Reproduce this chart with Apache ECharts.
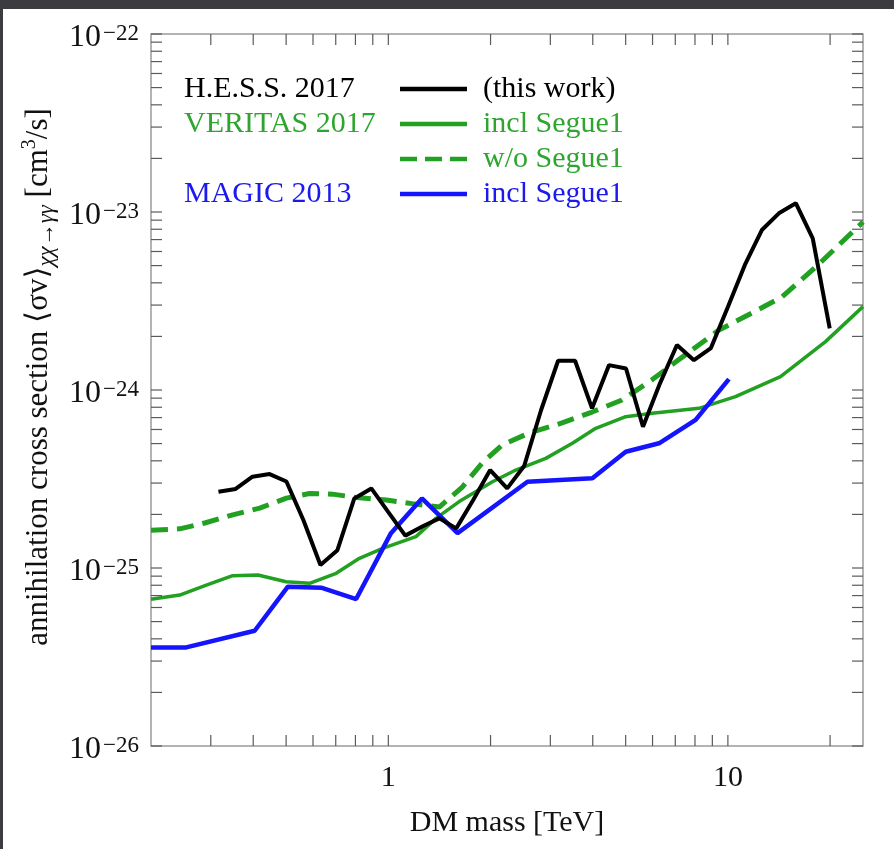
<!DOCTYPE html>
<html>
<head>
<meta charset="utf-8">
<title>DM annihilation into two photons: upper limits</title>
<script src="https://cdn.jsdelivr.net/npm/echarts@6/dist/echarts.min.js"></script>
<style>
  html, body { margin: 0; padding: 0; width: 894px; height: 849px; overflow: hidden; background: #3c3b40; }
  #paper { position: absolute; left: 3px; top: 9px; right: 0; bottom: 0; background: #ffffff; }
  #chart { position: absolute; left: 0; top: 0; width: 894px; height: 849px; }
</style>
</head>
<body>
<div id="paper"></div>
<div id="chart"></div>
<script>
// DM mass [TeV] and <sigma v> [cm^3/s] limits for each experiment
const hessMass = [0.316, 0.355, 0.398, 0.447, 0.501, 0.562, 0.631, 0.708, 0.794, 0.891,
                  1.0, 1.122, 1.259, 1.413, 1.585, 1.778, 1.995, 2.239, 2.512, 2.818,
                  3.162, 3.548, 3.981, 4.467, 5.012, 5.623, 6.310, 7.079, 7.943, 8.913,
                  10.0, 11.22, 12.59, 14.13, 15.85, 17.78, 19.95];
const hessSigma = [2.68e-25, 2.78e-25, 3.26e-25, 3.37e-25, 3.06e-25, 1.86e-25, 1.04e-25, 1.26e-25, 2.46e-25, 2.80e-25,
                   2.06e-25, 1.52e-25, 1.71e-25, 1.90e-25, 1.67e-25, 2.41e-25, 3.55e-25, 2.80e-25, 3.74e-25, 7.72e-25,
                   1.46e-24, 1.46e-24, 7.89e-25, 1.38e-24, 1.32e-24, 6.22e-25, 1.09e-24, 1.79e-24, 1.47e-24, 1.72e-24,
                   2.93e-24, 5.04e-24, 7.92e-24, 9.83e-24, 1.12e-23, 7.12e-24, 2.22e-24];

const veritasMass = [0.2, 0.243, 0.291, 0.348, 0.413, 0.50, 0.586, 0.702, 0.822, 0.962,
                     1.206, 1.381, 1.617, 2.026, 2.374, 2.909, 3.484, 4.082, 5.003, 5.99,
                     8.216, 10.53, 14.29, 19.39, 25];
const veritasSigma = [6.67e-26, 7.05e-26, 8.02e-26, 9.05e-26, 9.13e-26, 8.37e-26, 8.20e-26, 9.34e-26, 1.134e-25, 1.29e-25,
                      1.50e-25, 1.90e-25, 2.36e-25, 3.05e-25, 3.55e-25, 4.13e-25, 5.02e-25, 6.09e-25, 7.08e-25, 7.40e-25,
                      7.89e-25, 9.17e-25, 1.19e-24, 1.87e-24, 2.94e-24];

const veritasNoSegMass = [0.2, 0.243, 0.288, 0.348, 0.418, 0.501, 0.586, 0.684, 0.805, 0.987,
                          1.176, 1.413, 1.651, 1.890, 2.164, 2.598, 3.249, 3.981, 4.878, 5.977,
                          7.031, 9.41, 11.77, 14.42, 18.15, 25];
const veritasNoSegSigma = [1.63e-25, 1.66e-25, 1.79e-25, 1.99e-25, 2.17e-25, 2.47e-25, 2.62e-25, 2.60e-25, 2.49e-25, 2.41e-25,
                           2.30e-25, 2.20e-25, 2.85e-25, 3.89e-25, 4.91e-25, 5.73e-25, 6.53e-25, 7.52e-25, 8.79e-25, 1.14e-24,
                           1.44e-24, 2.17e-24, 2.71e-24, 3.33e-24, 4.91e-24, 8.79e-24];

const magicMass = [0.2, 0.254, 0.404, 0.506, 0.634, 0.804, 1.018, 1.256, 1.599, 2.569, 3.99, 5.003, 6.27, 8.035, 10.07];
const magicSigma = [3.58e-26, 3.58e-26, 4.44e-26, 7.85e-26, 7.75e-26, 6.69e-26, 1.57e-25, 2.46e-25, 1.57e-25, 3.05e-25,
                    3.19e-25, 4.50e-25, 5.02e-25, 6.79e-25, 1.15e-24];

// Axis ranges and frame tick marks
const massRange = [0.2, 25];
const sigmaRange = [1e-26, 1e-22];
const massTicks = [0.3, 0.4, 0.5, 0.6, 0.7, 0.8, 0.9, 1, 2, 3, 4, 5, 6, 7, 8, 9, 10, 20];
const sigmaDecades = [-26, -25, -24, -23];
const decadeSteps = [1, 2, 3, 4, 5, 6, 7, 8, 9];

// The y axis works in units of 1e-26 cm^3/s so the log scale keeps full precision;
// tick labels convert back to powers of ten.
const SIGMA_UNIT_EXP = -26;
const SIGMA_UNIT = Math.pow(10, SIGMA_UNIT_EXP);
const toUnit = s => s / SIGMA_UNIT;
const yRange = sigmaRange.map(toUnit);
const sigmaTicks = sigmaDecades.flatMap(e => decadeSteps.map(k => k * Math.pow(10, e - SIGMA_UNIT_EXP)))
  .concat([toUnit(1e-22)]);

// Legend rows: group label, key style, description
const legendRows = [
  { group: 'H.E.S.S. 2017', text: '(this work)', color: '#000000', textColor: '#000000', dashed: false },
  { group: 'VERITAS 2017', text: 'incl Segue1', color: '#22a022', textColor: '#2ea52e', dashed: false },
  { group: '', text: 'w/o Segue1', color: '#22a022', textColor: '#2ea52e', dashed: true },
  { group: 'MAGIC 2013', text: 'incl Segue1', color: '#1414ff', textColor: '#1a1aee', dashed: false }
];

const SERIF = '"Liberation Serif", "Times New Roman", "DejaVu Serif", serif';
const FRAME = '#9a9a9a';
const TICK = '#5a5a5a';
const TICK_LEN = 11;

const zip = (xs, ys) => xs.map((x, i) => [x, toUnit(ys[i])]);

const chart = echarts.init(document.getElementById('chart'), null, { renderer: 'canvas' });

function tickSeries(data, vertical) {
  return {
    type: 'custom',
    coordinateSystem: 'cartesian2d',
    silent: true,
    clip: false,
    z: 5,
    data: data,
    renderItem: function (params, api) {
      const style = { stroke: TICK, lineWidth: 1.2 };
      if (vertical) {
        const v = api.value(0);
        const b = api.coord([v, yRange[0]]);
        const t = api.coord([v, yRange[1]]);
        return { type: 'group', children: [
          { type: 'line', shape: { x1: b[0], y1: b[1], x2: b[0], y2: b[1] - TICK_LEN }, style: style },
          { type: 'line', shape: { x1: t[0], y1: t[1], x2: t[0], y2: t[1] + TICK_LEN }, style: style }
        ] };
      }
      const v = api.value(1);
      const l = api.coord([massRange[0], v]);
      const r = api.coord([massRange[1], v]);
      return { type: 'group', children: [
        { type: 'line', shape: { x1: l[0], y1: l[1], x2: l[0] + TICK_LEN, y2: l[1] }, style: style },
        { type: 'line', shape: { x1: r[0], y1: r[1], x2: r[0] - TICK_LEN, y2: r[1] }, style: style }
      ] };
    }
  };
}

// Legend drawn as text + key lines in the upper-left corner
const legendGraphics = [];
const rowY0 = 89, rowStep = 35;
legendRows.forEach((row, i) => {
  const y = rowY0 + i * rowStep;
  if (row.group) {
    legendGraphics.push({ type: 'text', left: 184, top: y - 15,
      style: { text: row.group, font: '30px ' + SERIF, fill: row.textColor } });
  }
  legendGraphics.push({ type: 'line', shape: { x1: 400, y1: y, x2: 467, y2: y },
    style: { stroke: row.color, lineWidth: 4.5, lineDash: row.dashed ? [17, 8] : null } });
  legendGraphics.push({ type: 'text', left: 483, top: y - 15,
    style: { text: row.text, font: '30px ' + SERIF, fill: row.textColor } });
});

const option = {
  animation: false,
  backgroundColor: 'transparent',
  grid: { left: 151, right: 31, top: 34, bottom: 103, show: true, borderColor: FRAME, borderWidth: 1.5 },
  xAxis: {
    type: 'log', logBase: 10, min: massRange[0], max: massRange[1],
    name: 'DM mass [TeV]', nameLocation: 'middle', nameGap: 62,
    nameTextStyle: { fontFamily: SERIF, fontSize: 30, color: '#111' },
    axisLine: { show: false }, axisTick: { show: false }, splitLine: { show: false },
    axisLabel: { showMinLabel: false, showMaxLabel: false, margin: 17,
      fontFamily: SERIF, fontSize: 30, color: '#111',
      formatter: v => String(Math.round(v)) }
  },
  yAxis: {
    type: 'log', logBase: 10, min: yRange[0], max: yRange[1],
    name: '{t|annihilation cross section ⟨σv⟩}{s|χχ→γγ}{t| [cm}{p|3}{t|/s]}',
    nameLocation: 'middle', nameGap: 92, nameRotate: 90,
    nameTextStyle: { padding: [0, 0, 0, 26], rich: {
      t: { fontFamily: SERIF, fontSize: 31, color: '#111', lineHeight: 38 },
      s: { fontFamily: SERIF, fontSize: 23, fontStyle: 'italic', color: '#111', lineHeight: 17, verticalAlign: 'bottom' },
      p: { fontFamily: SERIF, fontSize: 20, color: '#111', lineHeight: 17, verticalAlign: 'top' }
    } },
    axisLine: { show: false }, axisTick: { show: false }, splitLine: { show: false },
    axisLabel: { margin: 12, padding: [8, 0, 0, 0],
      formatter: v => '{m|10}{e|−' + Math.abs(Math.round(Math.log10(v)) + SIGMA_UNIT_EXP) + '}',
      rich: {
        m: { fontFamily: SERIF, fontSize: 32, color: '#111', lineHeight: 32 },
        e: { fontFamily: SERIF, fontSize: 23, color: '#111', lineHeight: 14, verticalAlign: 'top', padding: [0, 0, 0, 2] }
      } }
  },
  graphic: legendGraphics,
  series: [
    { name: 'VERITAS 2017 w/o Segue1', type: 'line', data: zip(veritasNoSegMass, veritasNoSegSigma),
      showSymbol: false, symbol: 'none', z: 2,
      lineStyle: { color: '#22a022', width: 5, type: [17, 9] } },
    { name: 'VERITAS 2017 incl Segue1', type: 'line', data: zip(veritasMass, veritasSigma),
      showSymbol: false, symbol: 'none', z: 3,
      lineStyle: { color: '#22a022', width: 3.5 } },
    { name: 'MAGIC 2013 incl Segue1', type: 'line', data: zip(magicMass, magicSigma),
      showSymbol: false, symbol: 'none', z: 3,
      lineStyle: { color: '#1414ff', width: 4.5 } },
    { name: 'H.E.S.S. 2017 (this work)', type: 'line', data: zip(hessMass, hessSigma),
      showSymbol: false, symbol: 'none', z: 4,
      lineStyle: { color: '#000000', width: 4 } },
    tickSeries(massTicks.map(v => [v, yRange[0]]), true),
    tickSeries(sigmaTicks.map(v => [massRange[0], v]), false)
  ]
};

chart.setOption(option);
</script>
</body>
</html>
